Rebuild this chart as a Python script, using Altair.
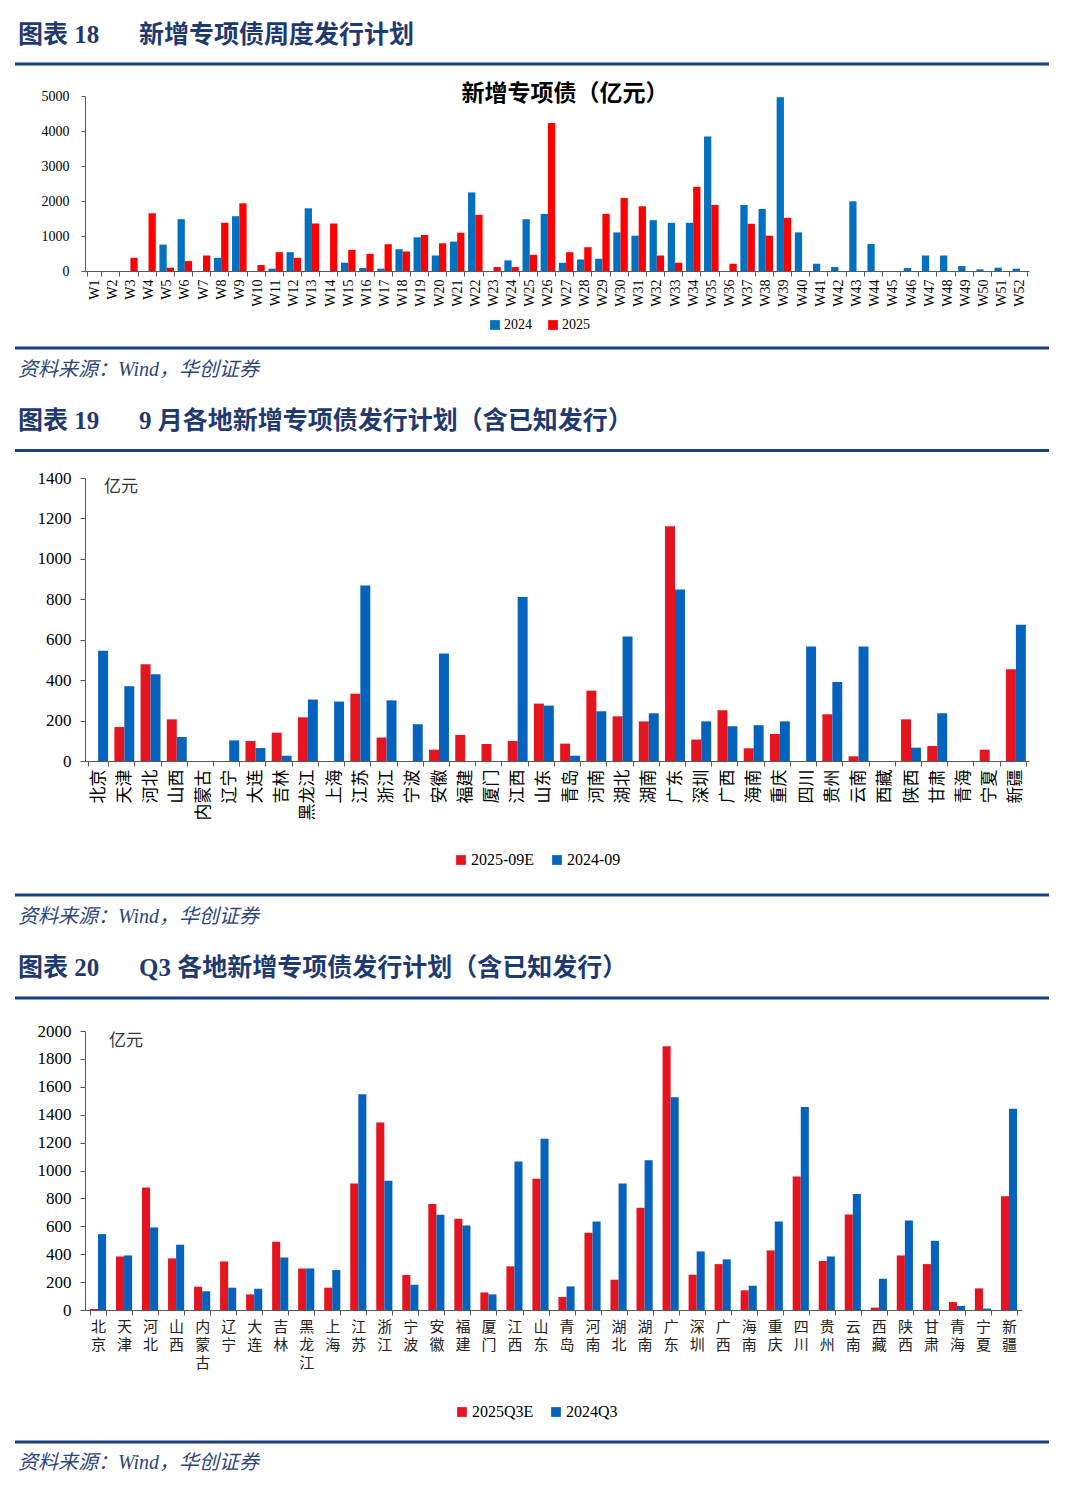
import altair as alt
import pandas as pd

# ---------------- data ----------------
weeks = [f"W{i}" for i in range(1, 53)]
wk_2024 = [0, 0, 0, 0, 755, 1480, 0, 377, 1566, 0,
           66, 538, 1792, 0, 236, 85, 66, 623, 962, 443,
           840, 2245, 0, 302, 1480, 1632, 236, 330, 349, 1104,
           1009, 1453, 1377, 1377, 3840, 0, 1887, 1774, 4962, 1104,
           208, 113, 1991, 774, 0, 85, 443, 443, 142, 47, 94, 66]
wk_2025 = [0, 0, 377, 1650, 95, 283, 443, 1377, 1934, 170,
           538, 377, 1358, 1358, 604, 490, 764, 557, 1028, 792,
           1094, 1604, 113, 113, 462, 4226, 538, 679, 1632, 2085,
           1849, 443, 236, 2406, 1887, 208, 1349, 1009, 1519, 0,
           0, 0, 0, 0, 0, 0, 0, 0, 0, 0, 0, 0]

regions = ["北京", "天津", "河北", "山西", "内蒙古", "辽宁", "大连", "吉林", "黑龙江",
           "上海", "江苏", "浙江", "宁波", "安徽", "福建", "厦门", "江西", "山东",
           "青岛", "河南", "湖北", "湖南", "广东", "深圳", "广西", "海南", "重庆",
           "四川", "贵州", "云南", "西藏", "陕西", "甘肃", "青海", "宁夏", "新疆"]
sep_2025e = [0, 168, 479, 206, 0, 0, 99, 140, 216, 0, 333, 116, 0, 56, 129, 84, 99, 284,
             86, 348, 221, 196, 1161, 106, 251, 63, 134, 0, 231, 23, 0, 206, 74, 0, 56, 454]
sep_2024 = [545, 370, 429, 119, 0, 102, 64, 26, 304, 294, 868, 300, 182, 532, 0, 0, 811, 274,
            26, 246, 616, 236, 849, 196, 172, 177, 196, 566, 391, 566, 0, 66, 236, 0, 0, 674]
q3_2025e = [7, 384, 878, 370, 167, 348, 112, 489, 298, 160, 907, 1344, 251, 759, 654, 126, 313, 940,
            93, 554, 217, 733, 1890, 253, 329, 141, 427, 957, 351, 685, 17, 391, 329, 57, 155, 816]
q3_2024 = [544, 391, 592, 468, 134, 160, 153, 377, 298, 286, 1547, 926, 181, 683, 606, 112, 1064, 1227,
           169, 635, 907, 1074, 1525, 420, 363, 174, 635, 1456, 384, 831, 224, 642, 496, 29, 10, 1442]

# ---------------- styles ----------------
NAVY = "#1F3A70"
RULE = "#17407E"
SRC = "#2F4677"
SERIF = "Liberation Serif"
CJK = "Noto Sans CJK SC"
MIX = "Liberation Serif, Noto Sans CJK SC"
BLUE1, RED1 = "#0070C0", "#FF0000"
BLUE2, RED2 = "#0563BE", "#E5141E"
AXC = "#595959"


def long(cats, a, b, na, nb):
    rows = []
    for c, va, vb in zip(cats, a, b):
        rows.append({"cat": c, "series": na, "value": va})
        rows.append({"cat": c, "series": nb, "value": vb})
    return pd.DataFrame(rows)


def one():
    return alt.Data(values=[{"k": 1}])


def txt(x, y, s, size, color="black", weight="normal", style="normal",
        align="left", font=MIX):
    return alt.Chart(one()).mark_text(
        text=s, fontSize=size, font=font, color=color, fontWeight=weight,
        fontStyle=style, align=align, baseline="middle"
    ).encode(x=alt.value(x), y=alt.value(y))


def hline(x1, x2, y, color=RULE, w=3):
    return alt.Chart(one()).mark_rule(color=color, strokeWidth=w).encode(
        x=alt.value(x1), x2=alt.value(x2), y=alt.value(y))


def heading(y, num, title):
    return [txt(-67, y, "图表  " + num, 25, NAVY, "bold"),
            txt(54, y, title, 25, NAVY, "bold")]


def source(y):
    return txt(-67, y, "资料来源：Wind，华创证券", 20, SRC, style="italic")


def legend(x, y, size):
    return alt.Legend(orient="none", legendX=x, legendY=y, direction="horizontal",
                      title=None, symbolType="square", symbolSize=95,
                      symbolStrokeWidth=0, labelFont=SERIF, labelFontSize=size,
                      labelColor="black", labelOffset=2, columnPadding=14)


# ---------------- panel 1 ----------------
df1 = long(weeks, wk_2024, wk_2025, "2024", "2025")
bars1 = alt.Chart(df1).mark_bar().encode(
    x=alt.X("cat:N", sort=weeks, title=None,
            scale=alt.Scale(paddingInner=0.2, paddingOuter=0.1),
            axis=alt.Axis(labelAngle=270, labelFont=SERIF, labelFontSize=14,
                          labelColor="black", tickBand="extent", tickSize=5,
                          domainColor=AXC, tickColor=AXC, labelPadding=3)),
    xOffset=alt.XOffset("series:N", sort=["2024", "2025"]),
    y=alt.Y("value:Q", title=None, scale=alt.Scale(domain=[0, 5000]),
            axis=alt.Axis(values=[0, 1000, 2000, 3000, 4000, 5000], grid=False, format="d",
                          labelFont=SERIF, labelFontSize=14, labelColor="black",
                          tickSize=4, labelPadding=12, domainColor=AXC, tickColor=AXC)),
    color=alt.Color("series:N", scale=alt.Scale(domain=["2024", "2025"], range=[BLUE1, RED1]),
                    legend=legend(403, 222, 14)),
)
anchor = alt.Chart(one()).mark_rule(color="white", strokeWidth=1).encode(
    x=alt.value(-76), x2=alt.value(-74), y=alt.value(-87))
p1 = alt.layer(
    anchor,
    *heading(-61, "18", "新增专项债周度发行计划"),
    hline(-70, 964, -32),
    txt(480, -2, "新增专项债（亿元）", 23, "black", "bold", align="center", font=CJK),
    bars1,
    hline(-70, 964, 252),
    source(274),
    *heading(325, "19", "9 月各地新增专项债发行计划（含已知发行）"),
    hline(-70, 964, 354.5),
).properties(width=944, height=175)

# ---------------- panel 2 ----------------
df2 = long(regions, sep_2025e, sep_2024, "2025-09E", "2024-09")
bars2 = alt.Chart(df2).mark_bar().encode(
    x=alt.X("cat:N", sort=regions, title=None,
            scale=alt.Scale(paddingInner=0.24, paddingOuter=0.12),
            axis=alt.Axis(labelAngle=270, labelFont=CJK, labelFontSize=17,
                          labelColor="black", tickBand="extent", tickSize=5,
                          domainColor=AXC, tickColor=AXC, labelPadding=3)),
    xOffset=alt.XOffset("series:N", sort=["2025-09E", "2024-09"]),
    y=alt.Y("value:Q", title=None, scale=alt.Scale(domain=[0, 1400]),
            axis=alt.Axis(values=list(range(0, 1401, 200)), grid=False, format="d",
                          labelFont=SERIF, labelFontSize=17, labelColor="black",
                          tickSize=5, labelPadding=9, domainColor=AXC, tickColor=AXC)),
    color=alt.Color("series:N", scale=alt.Scale(domain=["2025-09E", "2024-09"], range=[RED2, BLUE2]),
                    legend=legend(368, 374, 16)),
)
p2 = alt.layer(
    txt(19, 9, "亿元", 17, "#333333", font=CJK),
    bars2,
    hline(-70, 964, 417),
    source(439),
    *heading(490, "20", "Q3 各地新增专项债发行计划（含已知发行）"),
    hline(-70, 964, 520),
).properties(width=944, height=283)

# ---------------- panel 3 ----------------
df3 = long(regions, q3_2025e, q3_2024, "2025Q3E", "2024Q3")
bars3 = alt.Chart(df3).mark_bar().encode(
    x=alt.X("cat:N", sort=regions, title=None,
            scale=alt.Scale(paddingInner=0.38, paddingOuter=0.19),
            axis=alt.Axis(labelAngle=0, labelFont=CJK, labelFontSize=15,
                          labelExpr="split(datum.label, '')", labelLineHeight=18,
                          labelBaseline="top", labelColor="#222222",
                          tickBand="extent", tickSize=5,
                          domainColor=AXC, tickColor=AXC, labelPadding=4)),
    xOffset=alt.XOffset("series:N", sort=["2025Q3E", "2024Q3"]),
    y=alt.Y("value:Q", title=None, scale=alt.Scale(domain=[0, 2000], range=[342, 63]),
            axis=alt.Axis(values=list(range(0, 2001, 200)), grid=False, format="d",
                          labelFont=SERIF, labelFontSize=17, labelColor="black",
                          tickSize=5, labelPadding=9, domainColor=AXC, tickColor=AXC)),
    color=alt.Color("series:N", scale=alt.Scale(domain=["2025Q3E", "2024Q3"], range=[RED2, BLUE2]),
                    legend=legend(369, 436, 16)),
)
p3 = alt.layer(
    txt(24, 73, "亿元", 17, "#333333", font=CJK),
    bars3,
    hline(-70, 964, 474),
    source(495),
).properties(width=937, height=342)

chart = alt.vconcat(p1, p2, p3, spacing=207, bounds="flush").resolve_scale(
    x="independent", y="independent", color="independent", xOffset="independent"
).properties(padding=0).configure_view(stroke=None)

chart.save("out.html", embed_options={"renderer": "svg", "actions": False})
